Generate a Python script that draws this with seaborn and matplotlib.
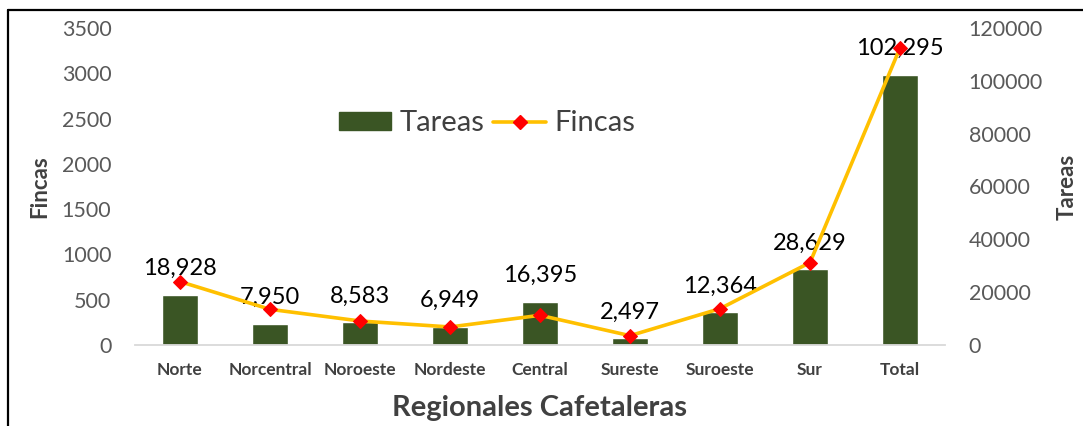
import matplotlib
matplotlib.use("Agg")
import matplotlib.pyplot as plt
import seaborn as sns
import pandas as pd
from matplotlib.lines import Line2D
from matplotlib.patches import Patch

regiones = ["Norte", "Norcentral", "Noroeste", "Nordeste", "Central",
            "Sureste", "Suroeste", "Sur", "Total"]
tareas = [18928, 7950, 8583, 6949, 16395, 2497, 12364, 28629, 102295]
fincas = [700, 394, 265, 199, 328, 103, 401, 910, 3280]

df = pd.DataFrame({"Regional": regiones, "Tareas": tareas, "Fincas": fincas})

sns.set_theme(style="white")
plt.rcParams["font.family"] = ["Lato", "DejaVu Sans"]

fig = plt.figure(figsize=(10.83, 4.26), dpi=100)
ax = fig.add_axes([135/1083, 1-345/426, 810/1083, 317/426])
ax2 = ax.twinx()

green = "#3A5524"
sns.barplot(data=df, x="Regional", y="Tareas", ax=ax2, color=green,
            width=0.4, saturation=1)
sns.lineplot(data=df, x="Regional", y="Fincas", ax=ax, color="#FFC000",
             linewidth=2.6, marker="D", markersize=7, markerfacecolor="#FF0000",
             markeredgecolor="#FF0000", sort=False)

ax.set_zorder(ax2.get_zorder() + 1)
ax.patch.set_visible(False)

ax.set_ylim(0, 3500)
ax2.set_ylim(0, 120000)
ax.set_xlim(-0.5, 8.5)
ax.set_yticks(range(0, 3501, 500))
ax2.set_yticks(range(0, 120001, 20000))

for i, v in enumerate(tareas):
    ax2.annotate(f"{v:,}", (i, v), xytext=(0, 19), textcoords="offset points",
                 ha="center", va="center", fontsize=17, color="black",
                 zorder=10, annotation_clip=False)

for a in (ax, ax2):
    for s in a.spines.values():
        s.set_visible(False)
    a.tick_params(length=0)
ax.spines["bottom"].set_visible(True)
ax.spines["bottom"].set_color("#D9D9D9")
ax.spines["bottom"].set_linewidth(1.3)

ax.tick_params(axis="y", labelsize=15.5, labelcolor="#595959", pad=17)
ax2.tick_params(axis="y", labelsize=15.5, labelcolor="#595959", pad=17)
ax.tick_params(axis="x", labelsize=12.5, labelcolor="#404040", pad=12)
for lab in ax.get_xticklabels():
    lab.set_fontweight("bold")
ax2.set_xlabel("")
ax.set_xlabel("Regionales Cafetaleras", fontsize=21, fontweight="bold",
              color="#404040")
ax.xaxis.set_label_coords(0.5, (345-408)/317, transform=ax.transAxes)
ax.xaxis.label.set_va("center")
ax.set_ylabel("Fincas", fontsize=16, fontweight="bold", color="#404040")
ax.yaxis.set_label_coords((40-135)/810, 0.5)
ax.yaxis.label.set_va("center")
ax2.set_ylabel("Tareas", fontsize=16, fontweight="bold", color="#404040")
ax2.yaxis.set_label_coords((1067-135)/810, 0.5)
ax2.yaxis.label.set_va("center")

handles = [Patch(facecolor=green, edgecolor=green),
           Line2D([0], [0], color="#FFC000", linewidth=2.6, marker="D", markersize=7,
                  markerfacecolor="#FF0000", markeredgecolor="#FF0000")]
ax.legend(handles, ["Tareas", "Fincas"], loc="center", bbox_to_anchor=((487-135)/810, 0.70),
          ncol=2, frameon=False, fontsize=21, handlelength=1.8, handleheight=0.55,
          columnspacing=0.3, handletextpad=0.3, labelcolor="#404040")

fig.add_artist(Line2D([8/1083, 8/1083], [0, 1-10/426], color="black", linewidth=1.6,
                      transform=fig.transFigure))
fig.add_artist(Line2D([8/1083, 1], [1-10/426, 1-10/426], color="black", linewidth=1.6,
                      transform=fig.transFigure))

fig.savefig("out.png", dpi=100)
